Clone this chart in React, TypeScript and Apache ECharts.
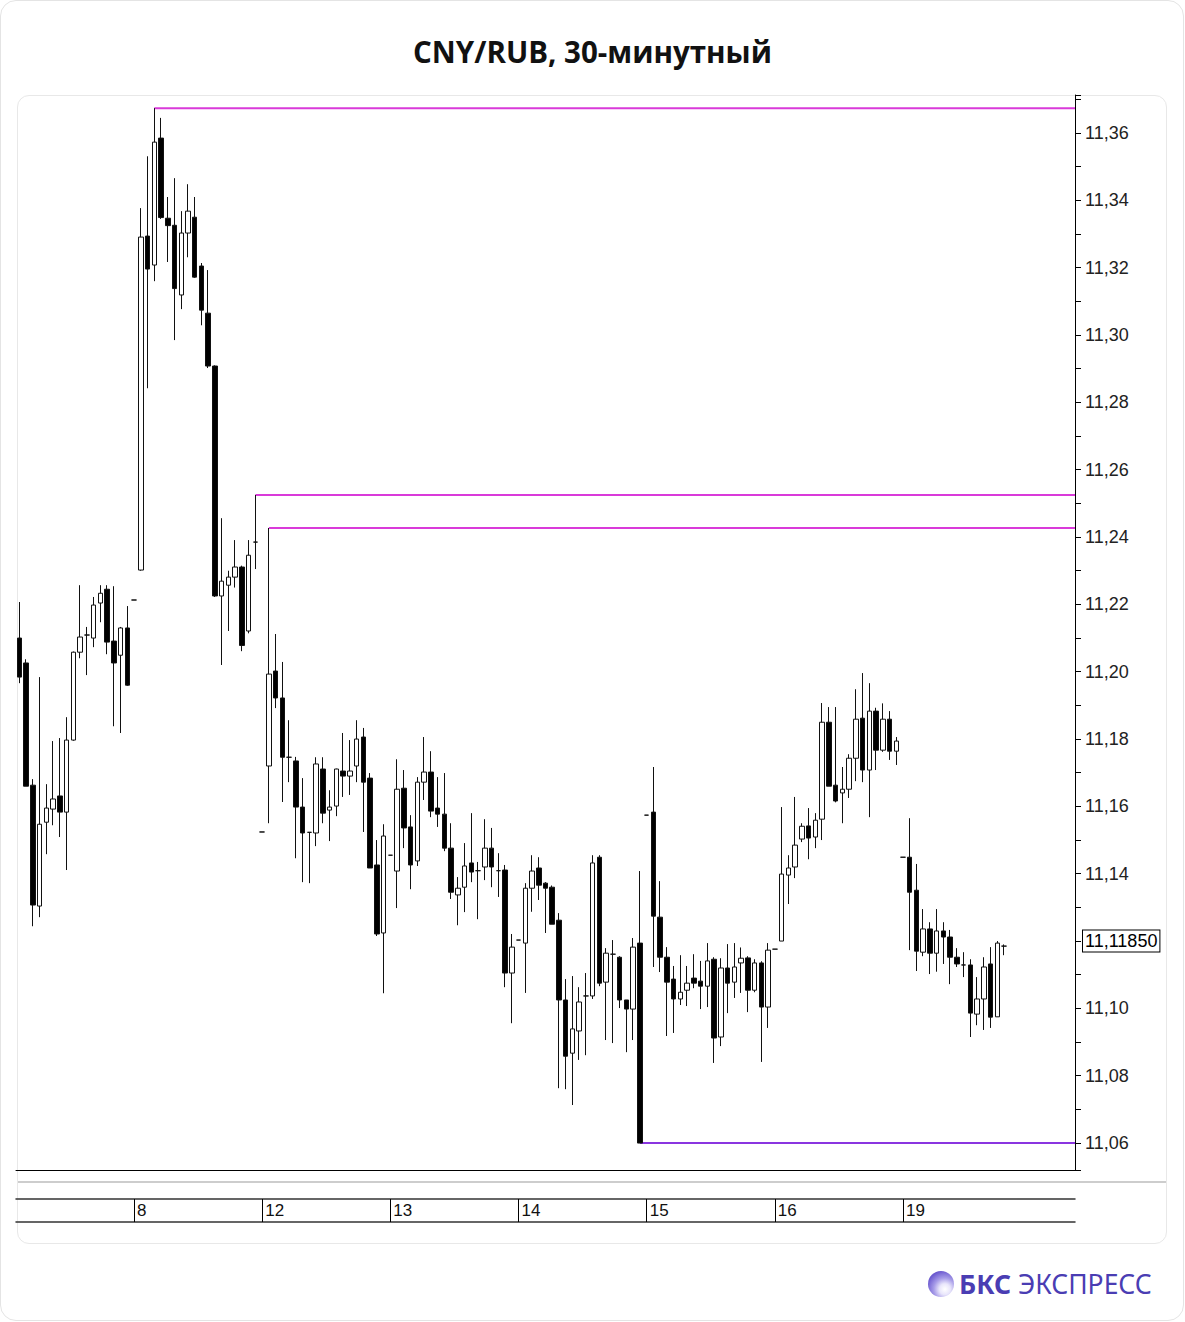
import React, { useEffect, useRef } from "react";
import * as echarts from "echarts";

// 30-minute slots; a day starts with a one-tick pre-session slot
const opens = [
  11.2100, 11.2026, 11.1663, 11.1304, 11.1553, 11.1592, 11.1631, 11.1583, 11.1797, 11.2058,
  11.2109, 11.2100, 11.2204, 11.2245, 11.2091, 11.2049, 11.2130, 11.2213, 11.2302, 11.3294,
  11.3208, 11.3585, 11.3347, 11.3326, 11.3119, 11.3303, 11.3350, 11.3205, 11.3065, 11.2908,
  11.2225, 11.2257, 11.2281, 11.2311, 11.2121, 11.2385, 11.1524, 11.1720, 11.2002, 11.1922,
  11.1746, 11.1735, 11.1598, 11.1523, 11.1521, 11.1711, 11.1589, 11.1601, 11.1705, 11.1690,
  11.1720, 11.1806, 11.1684, 11.1426, 11.1224, 11.1455, 11.1408, 11.1654, 11.1539, 11.1438,
  11.1672, 11.1702, 11.1595, 11.1577, 11.1476, 11.1337, 11.1360, 11.1432, 11.1409, 11.1420,
  11.1476, 11.1409, 11.1411, 11.1105, 11.1203, 11.1194, 11.1357, 11.1417, 11.1372, 11.1360,
  11.1262, 11.1025, 11.0867, 11.0933, 11.1037, 11.1037, 11.1449, 11.1078, 11.1161, 11.1152,
  11.1025, 11.0998, 11.1194, 11.1574, 11.1583, 11.1271, 11.1152, 11.1087, 11.1028, 11.1054,
  11.1090, 11.1081, 11.1066, 11.1146, 11.0915, 11.1120, 11.1078, 11.1135, 11.1150, 11.1054,
  11.1135, 11.1004, 11.1176, 11.1200, 11.1396, 11.1420, 11.1503, 11.1542, 11.1509, 11.1562,
  11.1850, 11.1663, 11.1640, 11.1651, 11.1743, 11.1862, 11.1708, 11.1883, 11.1767, 11.1859,
  11.1764, 11.1449, 11.1449, 11.1351, 11.1167, 11.1236, 11.1164, 11.1230, 11.1212, 11.1152,
  11.1129, 11.1129, 11.0983, 11.1028, 11.1132, 11.0975, 11.1185,
];
const closes = [
  11.1984, 11.1660, 11.1307, 11.1547, 11.1595, 11.1622, 11.1583, 11.1797, 11.2058, 11.2103,
  11.2109, 11.2198, 11.2233, 11.2088, 11.2026, 11.2130, 11.1960, 11.2213, 11.3291, 11.3196,
  11.3573, 11.3349, 11.3325, 11.3138, 11.3303, 11.3368, 11.3172, 11.3074, 11.2908, 11.2225,
  11.2269, 11.2281, 11.2311, 11.2078, 11.2346, 11.2385, 11.1524, 11.1993, 11.1922, 11.1746,
  11.1746, 11.1598, 11.1521, 11.1523, 11.1726, 11.1580, 11.1598, 11.1711, 11.1690, 11.1705,
  11.1800, 11.1672, 11.1417, 11.1221, 11.1512, 11.1455, 11.1651, 11.1536, 11.1426, 11.1672,
  11.1702, 11.1586, 11.1577, 11.1476, 11.1345, 11.1357, 11.1423, 11.1405, 11.1409, 11.1476,
  11.1420, 11.1409, 11.1105, 11.1182, 11.1203, 11.1357, 11.1408, 11.1366, 11.1357, 11.1250,
  11.1025, 11.0858, 11.0939, 11.1019, 11.1037, 11.1432, 11.1075, 11.1164, 11.1161, 11.1025,
  11.0998, 11.1182, 11.0600, 11.1574, 11.1274, 11.1152, 11.1078, 11.1028, 11.1048, 11.1075,
  11.1075, 11.1066, 11.1141, 11.0912, 11.1120, 11.1075, 11.1123, 11.1149, 11.1054, 11.1135,
  11.1004, 11.1173, 11.1176, 11.1399, 11.1417, 11.1485, 11.1541, 11.1506, 11.1559, 11.1850,
  11.1660, 11.1616, 11.1651, 11.1743, 11.1859, 11.1708, 11.1883, 11.1767, 11.1859, 11.1764,
  11.1794, 11.1449, 11.1345, 11.1170, 11.1236, 11.1164, 11.1230, 11.1212, 11.1152, 11.1132,
  11.1129, 11.0986, 11.1028, 11.1123, 11.0974, 11.1194, 11.1185,
];
const lows = [
  11.1966, 11.1660, 11.1244, 11.1271, 11.1458, 11.1544, 11.1509, 11.1411, 11.1795, 11.2040,
  11.1990, 11.2073, 11.2147, 11.2052, 11.1838, 11.1818, 11.1958, 11.2213, 11.2300, 11.2842,
  11.3160, 11.3345, 11.3217, 11.2985, 11.3077, 11.3231, 11.3170, 11.3029, 11.2902, 11.2222,
  11.2020, 11.2121, 11.2250, 11.2061, 11.2114, 11.2305, 11.1524, 11.1550, 11.1892, 11.1613,
  11.1672, 11.1446, 11.1375, 11.1372, 11.1482, 11.1550, 11.1497, 11.1571, 11.1628, 11.1634,
  11.1672, 11.1524, 11.1417, 11.1215, 11.1045, 11.1455, 11.1298, 11.1476, 11.1354, 11.1423,
  11.1619, 11.1568, 11.1539, 11.1467, 11.1325, 11.1247, 11.1286, 11.1375, 11.1265, 11.1381,
  11.1360, 11.1331, 11.1063, 11.0956, 11.1203, 11.1046, 11.1287, 11.1322, 11.1224, 11.1250,
  11.0763, 11.0760, 11.0713, 11.0847, 11.0861, 11.1028, 11.1066, 11.0906, 11.0897, 11.1001,
  11.0870, 11.0906, 11.0600, 11.1574, 11.1123, 11.1108, 11.0918, 11.0927, 11.1010, 11.1007,
  11.1060, 11.0998, 11.1004, 11.0838, 11.0888, 11.0986, 11.1031, 11.1046, 11.0989, 11.1048,
  11.0841, 11.0942, 11.1176, 11.1200, 11.1310, 11.1387, 11.1494, 11.1443, 11.1476, 11.1500,
  11.1660, 11.1612, 11.1550, 11.1625, 11.1675, 11.1672, 11.1568, 11.1708, 11.1762, 11.1738,
  11.1723, 11.1449, 11.1173, 11.1111, 11.1155, 11.1102, 11.1109, 11.1132, 11.1072, 11.1123,
  11.1093, 11.0915, 11.0950, 11.0936, 11.0942, 11.0975, 11.1158,
];
const highs = [
  11.2207, 11.2037, 11.1681, 11.1984, 11.1666, 11.1794, 11.1803, 11.1865, 11.2060, 11.2257,
  11.2133, 11.2222, 11.2257, 11.2257, 11.2254, 11.2133, 11.2195, 11.2213, 11.3377, 11.3531,
  11.3674, 11.3645, 11.3410, 11.3466, 11.3368, 11.3448, 11.3410, 11.3214, 11.3193, 11.2910,
  11.2456, 11.2300, 11.2391, 11.2315, 11.2391, 11.2525, 11.1524, 11.2427, 11.2112, 11.2029,
  11.1856, 11.1747, 11.1684, 11.1523, 11.1746, 11.1746, 11.1648, 11.1712, 11.1818, 11.1797,
  11.1856, 11.1833, 11.1699, 11.1500, 11.1547, 11.1455, 11.1740, 11.1708, 11.1574, 11.1687,
  11.1806, 11.1764, 11.1687, 11.1699, 11.1550, 11.1390, 11.1491, 11.1580, 11.1435, 11.1562,
  11.1536, 11.1461, 11.1426, 11.1221, 11.1203, 11.1372, 11.1455, 11.1449, 11.1375, 11.1365,
  11.1283, 11.1087, 11.1096, 11.1063, 11.1105, 11.1455, 11.1455, 11.1179, 11.1203, 11.1155,
  11.1025, 11.1209, 11.1408, 11.1574, 11.1717, 11.1378, 11.1182, 11.1126, 11.1158, 11.1126,
  11.1161, 11.1141, 11.1194, 11.1152, 11.1149, 11.1191, 11.1194, 11.1181, 11.1155, 11.1146,
  11.1140, 11.1194, 11.1176, 11.1598, 11.1455, 11.1628, 11.1550, 11.1595, 11.1580, 11.1907,
  11.1895, 11.1895, 11.1717, 11.1755, 11.1948, 11.1996, 11.1966, 11.1893, 11.1906, 11.1883,
  11.1806, 11.1449, 11.1565, 11.1429, 11.1295, 11.1256, 11.1295, 11.1256, 11.1233, 11.1179,
  11.1167, 11.1146, 11.1093, 11.1152, 11.1182, 11.1200, 11.1190,
];

const slotCount = 157;
const dayStartSlots = [17, 36, 55, 74, 93, 112, 131];
const dayLabels = ["8", "12", "13", "14", "15", "16", "19"];

// horizontal levels: starting candle slot and price
const levelStartSlots = [20, 35, 37, 92];
const levelPrices = [11.3674, 11.2525, 11.2427, 11.06];
const levelColors = ["#d93ad9", "#d93ad9", "#d93ad9", "#8a35e0"];

const lastPrice = 11.1185;
const lastPriceLabel = "11,11850";
const hiddenTickLabel = 11.12; // covered by the last-price box
const yMin = 11.052;
const yMax = 11.3713;

const axisFont = '"Liberation Sans", Arial, sans-serif';

export default function App() {
  const ref = useRef<HTMLDivElement>(null);

  useEffect(() => {
    if (!ref.current) return;
    const chart = echarts.init(ref.current, undefined, { renderer: "svg" });
    const categories = Array.from({ length: slotCount }, (_, i) => String(i));
    const candles = opens.map((o, i) => [o, closes[i], lows[i], highs[i]]);
    const isDayStart = (i: number) => dayStartSlots.indexOf(i) >= 0;

    const levelSeries = levelPrices.map((p, k) => ({
      type: "line",
      xAxisIndex: 3,
      yAxisIndex: 0,
      data: [
        [levelStartSlots[k], p],
        [slotCount - 0.5, p],
      ],
      symbol: "none",
      silent: true,
      lineStyle: { color: levelColors[k], width: 2 },
      z: 3,
    }));

    chart.setOption({
      animation: false,
      grid: { left: 16, right: 110, top: 95, bottom: 152 },
      xAxis: [
        {
          type: "category",
          data: categories,
          boundaryGap: true,
          axisLine: { show: true, onZero: false, lineStyle: { color: "#000", width: 1 } },
          axisTick: { show: false },
          axisLabel: { show: false },
          splitLine: { show: false },
        },
        {
          type: "category",
          data: categories,
          position: "bottom",
          offset: 29,
          boundaryGap: true,
          axisLine: { show: true, onZero: false, lineStyle: { color: "#333", width: 1.5 } },
          axisTick: {
            show: true,
            interval: (i: number) => isDayStart(i),
            alignWithLabel: true,
            length: 23,
            lineStyle: { color: "#000", width: 1 },
          },
          axisLabel: {
            show: true,
            interval: (i: number) => isDayStart(i),
            formatter: (_v: string, i: number) => dayLabels[dayStartSlots.indexOf(i)] ?? "",
            align: "left",
            margin: 3,
            padding: [0, 0, 0, 3],
            fontSize: 17,
            color: "#111",
            fontFamily: axisFont,
          },
        },
        {
          type: "category",
          data: categories,
          position: "bottom",
          offset: 52,
          axisLine: { show: true, onZero: false, lineStyle: { color: "#333", width: 1.5 } },
          axisTick: { show: false },
          axisLabel: { show: false },
        },
        { type: "value", min: -0.5, max: slotCount - 0.5, show: false },
      ],
      yAxis: {
        type: "value",
        position: "right",
        min: yMin,
        max: yMax,
        splitNumber: 16,
        axisLine: { show: true, onZero: false, lineStyle: { color: "#000", width: 1 } },
        axisTick: { show: true, length: 6, lineStyle: { color: "#000" } },
        minorTick: { show: true, splitNumber: 2, length: 6, lineStyle: { color: "#000" } },
        splitLine: { show: false },
        axisLabel: {
          showMinLabel: false,
          showMaxLabel: false,
          margin: 10,
          fontSize: 18,
          color: "#222",
          fontFamily: axisFont,
          formatter: (v: number) =>
            Math.abs(v - hiddenTickLabel) < 1e-6 ? "" : v.toFixed(2).replace(".", ","),
        },
      },
      series: [
        {
          type: "candlestick",
          xAxisIndex: 0,
          yAxisIndex: 0,
          data: candles,
          barWidth: 5,
          itemStyle: {
            color: "#ffffff",
            color0: "#000000",
            borderColor: "#111",
            borderColor0: "#111",
            borderColorDoji: "#111",
            borderWidth: 1,
          },
          markLine: {
            silent: true,
            symbol: "none",
            lineStyle: { width: 1, color: "rgba(0,0,0,0)", type: "solid" },
            data: [{ yAxis: lastPrice }],
            label: {
              show: true,
              position: "end",
              distance: 8,
              formatter: lastPriceLabel,
              fontSize: 18,
              color: "#000",
              fontFamily: axisFont,
              backgroundColor: "#fff",
              borderColor: "#000",
              borderWidth: 1,
              padding: [2, 2, 1, 2],
            },
          },
          z: 4,
        },
        ...levelSeries,
      ],
    });
    return () => chart.dispose();
  }, []);

  return (
    <div
      style={{
        position: "absolute",
        left: 0,
        top: 0,
        width: 1185,
        height: 1322,
        background: "#fff",
        overflow: "hidden",
      }}
    >
      <div
        style={{
          position: "absolute",
          left: 0,
          top: 0,
          width: 1182,
          height: 1319,
          border: "1px solid #e4e4e4",
          borderRadius: 16,
        }}
      />
      <div
        style={{
          position: "absolute",
          left: 0,
          top: 32,
          width: 1185,
          textAlign: "center",
          fontFamily: '"Open Sans", "Noto Sans", sans-serif',
          fontWeight: 700,
          fontSize: 29.5,
          color: "#111",
          lineHeight: "40px",
        }}
      >
        CNY/RUB, 30-минутный
      </div>
      <div
        style={{
          position: "absolute",
          left: 17,
          top: 95,
          width: 1148,
          height: 1147,
          border: "1px solid #e8e8e8",
          borderRadius: 12,
        }}
      />
      <div
        style={{
          position: "absolute",
          left: 18,
          top: 1181,
          width: 1148,
          height: 2,
          background: "#cdcdcd",
        }}
      />
      <div
        ref={ref}
        style={{ position: "absolute", left: 0, top: 0, width: 1185, height: 1322 }}
      />
      <div
        style={{
          position: "absolute",
          left: 928,
          top: 1271,
          width: 26,
          height: 26,
          borderRadius: "50%",
          background:
            "radial-gradient(circle at 65% 70%, #ffffff 0%, #e9e6fb 22%, #a79ce8 45%, #6a58cf 75%, #4d3db8 100%)",
        }}
      />
      <div
        style={{
          position: "absolute",
          left: 959,
          top: 1266,
          fontFamily: '"Noto Sans", "Open Sans", sans-serif',
          fontSize: 26.5,
          lineHeight: "36px",
          color: "#4a3db3",
          whiteSpace: "nowrap",
        }}
      >
        <span style={{ fontWeight: 700 }}>БКС</span> ЭКСПРЕСС
      </div>
    </div>
  );
}
